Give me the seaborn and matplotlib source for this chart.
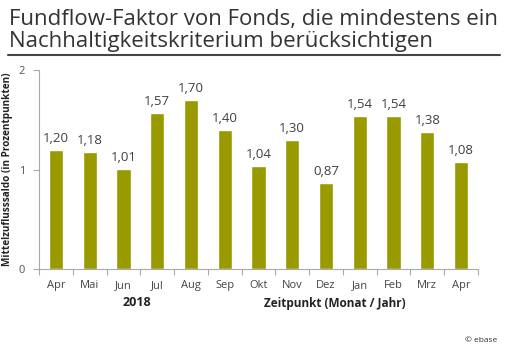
import matplotlib
matplotlib.use("Agg")
import matplotlib.pyplot as plt
import seaborn as sns
import pandas as pd
from matplotlib.ticker import FixedLocator, NullFormatter

monate = ["Apr", "Mai", "Jun", "Jul", "Aug", "Sep", "Okt", "Nov", "Dez", "Jan", "Feb", "Mrz", "Apr"]
perioden = ["2018-04", "2018-05", "2018-06", "2018-07", "2018-08", "2018-09", "2018-10",
            "2018-11", "2018-12", "2019-01", "2019-02", "2019-03", "2019-04"]
faktor = [1.20, 1.18, 1.01, 1.57, 1.70, 1.40, 1.04, 1.30, 0.87, 1.54, 1.54, 1.38, 1.08]
y_ticks = [0, 1, 2]

sns.set_theme(style="white")
plt.rcParams["font.family"] = ["Open Sans", "DejaVu Sans"]

df = pd.DataFrame({"periode": perioden, "faktor": faktor})

fig = plt.figure(figsize=(5.08, 3.49), dpi=100)
ax = fig.add_axes([0.0768, 0.229, 0.864, 0.570])

bar_color = "#999900"
sns.barplot(data=df, x="periode", y="faktor", order=perioden, color=bar_color,
            width=0.42, saturation=1, ax=ax)

# value labels above each bar
for i, v in enumerate(faktor):
    ax.text(i, v + 0.05, f"{v:.2f}".replace(".", ","), ha="center", va="bottom",
            fontsize=9.5, color="#404040")

ax.set_xlim(-0.5, len(perioden) - 0.5)
ax.set_ylim(0, 2)
ax.set_yticks(y_ticks)
ax.set_yticklabels([str(t) for t in y_ticks], fontsize=8, color="#555555")

ax.set_xticks(range(len(perioden)))
ax.set_xticklabels(monate, fontsize=8, color="#444444")
ax.xaxis.set_minor_locator(FixedLocator([i - 0.5 for i in range(len(perioden) + 1)]))
ax.xaxis.set_minor_formatter(NullFormatter())
ax.tick_params(axis="x", which="major", length=0, pad=8)
ax.tick_params(axis="x", which="minor", length=4, width=0.8, color="#aaaaaa", direction="out", bottom=True)
ax.tick_params(axis="y", length=4, width=0.8, color="#aaaaaa", direction="out", left=True, pad=6)

for side in ["top", "right"]:
    ax.spines[side].set_visible(False)
for side in ["left", "bottom"]:
    ax.spines[side].set_color("#aaaaaa")
    ax.spines[side].set_linewidth(0.8)

ax.set_xlabel("")
ax.set_ylabel("Mittelzuflusssaldo (in Prozentpunkten)", fontsize=7.2, fontweight="bold",
              color="#222222", labelpad=4)
ax.yaxis.set_label_coords(-0.06, 0.5)

# year and axis caption below the month labels
fig.text(137 / 508, 1 - 303 / 349, "2018", ha="center", va="center", fontsize=9,
         fontweight="bold", color="#222222")
fig.text(335 / 508, 1 - 304 / 349, "Zeitpunkt (Monat / Jahr)", ha="center", va="center",
         fontsize=8.5, fontweight="bold", color="#222222")
fig.text(497 / 508, 1 - 340 / 349, "© ebase", ha="right", va="center", fontsize=6,
         color="#333333")

# title in two lines and the rule beneath it
fig.text(9 / 508, 1 - 19 / 349, "Fundflow-Faktor von Fonds, die mindestens ein",
         ha="left", va="center", fontsize=16, color="#333333")
fig.text(9 / 508, 1 - 41 / 349, "Nachhaltigkeitskriterium berücksichtigen",
         ha="left", va="center", fontsize=16, color="#333333")
fig.add_artist(plt.Line2D([8 / 508, 500 / 508], [1 - 55 / 349, 1 - 55 / 349],
                          color="#444444", linewidth=1.5, transform=fig.transFigure))

fig.savefig("out.png", dpi=100)
